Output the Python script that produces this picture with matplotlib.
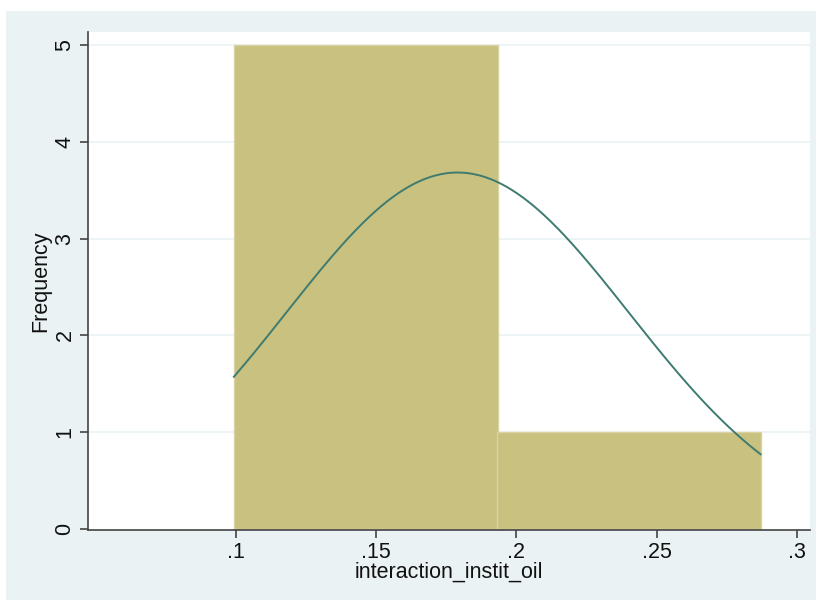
import numpy as np
import matplotlib.pyplot as plt
from matplotlib.patches import Rectangle

plt.rcParams['font.family'] = ['Liberation Sans', 'DejaVu Sans']

# histogram bins (left edges), common width and counts
bin_left = [0.0993, 0.1930]
bin_width = 0.0940
counts = [5, 1]

# normal overlay parameters
mean_val = 0.179
sd_val = 0.0611
n_obs = 6

x_ticks = [0.1, 0.15, 0.2, 0.25, 0.3]
x_ticklabels = ['.1', '.15', '.2', '.25', '.3']
y_ticks = [0, 1, 2, 3, 4, 5]

bg = '#EAF2F3'
bar_fill = '#C9C17F'
bar_edge = '#D9D3A3'
curve_col = '#3E7B70'
axis_col = '#444444'

fig = plt.figure(figsize=(8.21, 6.04), dpi=100)
fig.patches.append(Rectangle((6 / 821, 4 / 604), 810 / 821, 589 / 604,
                             transform=fig.transFigure, facecolor=bg,
                             edgecolor='none', zorder=-5))

ax = fig.add_axes([88 / 821, 74 / 604, 722 / 821, 498 / 604])
ax.set_zorder(2)
ax.set_facecolor('white')

# grid
for yv in y_ticks[1:]:
    ax.axhline(yv, color=bg, lw=1.2, zorder=1)

ax.bar(bin_left, counts, width=bin_width, align='edge', color=bar_fill,
       edgecolor=bar_edge, linewidth=1.0, zorder=2)

xs = np.linspace(bin_left[0], bin_left[-1] + bin_width, 300)
dens = n_obs * bin_width * np.exp(-0.5 * ((xs - mean_val) / sd_val) ** 2) / (sd_val * np.sqrt(2 * np.pi))
ax.plot(xs, dens, color=curve_col, lw=1.4, zorder=3)

ax.set_xlim(0.0473, 0.3046)
ax.set_ylim(-0.01, 5.134)

for s in ['top', 'right']:
    ax.spines[s].set_visible(False)
for s in ['left', 'bottom']:
    ax.spines[s].set_color(axis_col)
    ax.spines[s].set_linewidth(1.2)

ax.set_xticks(x_ticks)
ax.set_xticklabels(x_ticklabels)
ax.set_yticks(y_ticks)
ax.set_yticklabels([str(v) for v in y_ticks], rotation=90, va='center')
ax.tick_params(axis='both', direction='out', length=6, width=1.2,
               color=axis_col, labelsize=15.5, labelcolor='#111111', pad=3)

ax.set_xlabel('interaction_instit_oil', fontsize=15.5, color='#111111', labelpad=-1)
ax.set_ylabel('Frequency', fontsize=15.5, color='#111111', labelpad=2)

fig.savefig('out.png', dpi=100)
